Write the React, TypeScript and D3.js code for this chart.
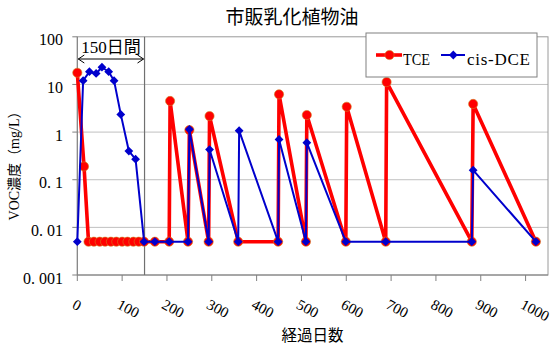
import React from "react";
import * as d3 from "d3";

const title = "市販乳化植物油";
const xTitle = "経過日数";
const yTitle = "VOC濃度（mg/L）";
const seriesNames = ["TCE", "cis-DCE"];
const annotation = "150日間";
const periodDays = 150;

const tceDays = [0, 15, 25, 37, 50, 62, 75, 87, 100, 112, 125, 137, 149, 173, 205, 207, 247, 250, 293, 295, 359, 448, 450, 510, 512, 599, 601, 688, 690, 880, 883, 1023];
const tceVals = [17.6, 0.19, 0.005, 0.005, 0.005, 0.005, 0.005, 0.005, 0.005, 0.005, 0.005, 0.005, 0.005, 0.005, 0.005, 4.5, 0.005, 1.1, 0.005, 2.17, 0.005, 0.005, 6.2, 0.005, 2.28, 0.005, 3.4, 0.005, 11.2, 0.005, 3.9, 0.005];

const dceDays = [0, 13, 27, 42, 55, 70, 82, 97, 115, 130, 149, 173, 205, 247, 250, 293, 295, 359, 361, 448, 450, 510, 512, 599, 688, 880, 883, 1023];
const dceVals = [0.005, 12, 18.5, 17, 23, 18.5, 12, 2.35, 0.4, 0.27, 0.005, 0.005, 0.005, 0.005, 1.14, 0.005, 0.43, 0.005, 1.07, 0.005, 0.7, 0.005, 0.6, 0.005, 0.005, 0.005, 0.159, 0.005];

const xTicks = [0, 100, 200, 300, 400, 500, 600, 700, 800, 900, 1000];
const yTicks = [0.001, 0.01, 0.1, 1, 10, 100];

const W = 560;
const H = 347;
const latin = "'Liberation Serif', 'Noto Sans CJK JP', serif";
const cjk = "'Noto Sans CJK JP', sans-serif";

export default function App() {
  const x = d3.scaleLinear().domain([0, 1050]).range([77.3, 548]);
  const y = d3.scaleLog().domain([0.001, 100]).range([275, 36.8]);
  const top = y(100);
  const bottom = y(0.001);
  const left = x(0);
  const right = x(1050);

  const line = d3
    .line<[number, number]>()
    .x((d) => x(d[0]))
    .y((d) => y(d[1]));

  const tce: [number, number][] = tceDays.map((d, i) => [d, tceVals[i]]);
  const dce: [number, number][] = dceDays.map((d, i) => [d, dceVals[i]]);

  const red = "#ff0000";
  const blue = "#0000cc";
  const diamond = (cx: number, cy: number, r: number) =>
    `M${cx},${cy - r}L${cx + r},${cy}L${cx},${cy + r}L${cx - r},${cy}Z`;

  const fmtY = (v: number) => {
    const s = String(v);
    if (s.startsWith("0.")) {
      return (
        <>
          <tspan>0.</tspan>
          <tspan dx={4}>{s.slice(2)}</tspan>
        </>
      );
    }
    return s;
  };

  const arrowY = 59;
  const ax1 = left;
  const ax2 = x(periodDays);

  return (
    <svg
      width={W}
      height={H}
      viewBox={`0 0 ${W} ${H}`}
      style={{ position: "fixed", left: 0, top: 0, background: "#fff" }}
    >
      <rect x={0} y={0} width={W} height={H} fill="#fff" />
      {yTicks.slice(1, -1).map((t) => (
        <line key={"g" + t} x1={left} x2={right} y1={y(t)} y2={y(t)} stroke="#c0c0c0" strokeWidth={1} />
      ))}
      <rect x={left} y={top} width={right - left} height={bottom - top} fill="none" stroke="#9a9a9a" strokeWidth={1} />
      <line x1={left} x2={left} y1={top} y2={bottom} stroke="#808080" />
      <line x1={left} x2={right} y1={bottom} y2={bottom} stroke="#808080" />
      {yTicks.map((t) => (
        <g key={"y" + t}>
          <line x1={left - 5} x2={left} y1={y(t)} y2={y(t)} stroke="#808080" />
          <text x={63} y={y(t) + 8.5} textAnchor="end" fontFamily={latin} fontSize={16} fill="#000">
            {fmtY(t)}
          </text>
        </g>
      ))}
      {xTicks.map((t) => (
        <g key={"x" + t}>
          <line x1={x(t)} x2={x(t)} y1={bottom} y2={bottom + 6} stroke="#808080" />
          <text
            transform={`translate(${x(t) - 1},${bottom + 23}) rotate(28)`}
            dy={11}
            fontFamily={latin}
            fontSize={15}
            fill="#000"
          >
            {t}
          </text>
        </g>
      ))}
      <line x1={x(periodDays)} x2={x(periodDays)} y1={top} y2={bottom} stroke="#707070" strokeWidth={1.2} />
      <text x={(ax1 + ax2) / 2} y={53} textAnchor="middle" fontFamily={latin} fontSize={17} fill="#000">
        {annotation}
      </text>
      <g stroke="#000" strokeWidth={1} fill="none">
        <line x1={ax1 + 1} x2={ax2 - 1} y1={arrowY} y2={arrowY} />
        <path d={`M${ax1 + 7},${arrowY - 4}L${ax1 + 1},${arrowY}L${ax1 + 7},${arrowY + 4}`} />
        <path d={`M${ax2 - 7},${arrowY - 4}L${ax2 - 1},${arrowY}L${ax2 - 7},${arrowY + 4}`} />
      </g>
      <path d={line(tce) || ""} fill="none" stroke={red} strokeWidth={3.6} strokeLinejoin="round" />
      {tce.map((d, i) => (
        <circle key={"t" + i} cx={x(d[0])} cy={y(d[1])} r={4.6} fill={red} stroke="#d08020" strokeWidth={0.6} />
      ))}
      <path d={line(dce) || ""} fill="none" stroke={blue} strokeWidth={2} strokeLinejoin="round" />
      {dce.map((d, i) => (
        <path key={"d" + i} d={diamond(x(d[0]), y(d[1]), 4.4)} fill={blue} />
      ))}
      <rect x={366} y={33} width={171} height={44} fill="#fff" stroke="#808080" strokeWidth={1} />
      <line x1={376} x2={402} y1={55} y2={55} stroke={red} strokeWidth={3.6} />
      <circle cx={389.5} cy={55} r={4.6} fill={red} stroke="#d08020" strokeWidth={0.6} />
      <text x={403} y={65} fontFamily={latin} fontSize={17} textLength={27} lengthAdjust="spacingAndGlyphs" fill="#000">
        {seriesNames[0]}
      </text>
      <line x1={441} x2={465} y1={55} y2={55} stroke={blue} strokeWidth={2} />
      <path d={diamond(453.3, 55, 4.4)} fill={blue} />
      <text x={467} y={65} fontFamily={latin} fontSize={17} textLength={63} lengthAdjust="spacing" fill="#000">
        {seriesNames[1]}
      </text>
      <text x={292} y={24} textAnchor="middle" fontFamily={cjk} fontSize={19} fill="#000">
        {title}
      </text>
      <text x={312.5} y={341} textAnchor="middle" fontFamily={cjk} fontSize={15.5} fill="#000">
        {xTitle}
      </text>
      <text
        transform={`translate(19,162.5) rotate(-90)`}
        textAnchor="middle"
        fontFamily={latin}
        fontSize={14}
        fill="#000"
      >
        {yTitle}
      </text>
    </svg>
  );
}
